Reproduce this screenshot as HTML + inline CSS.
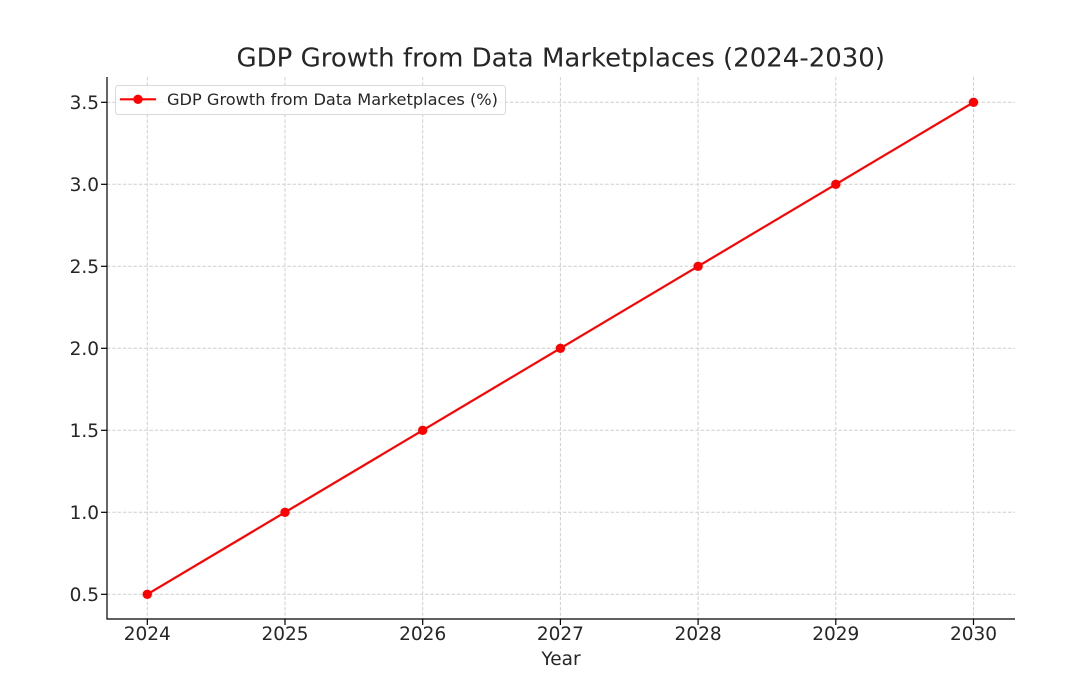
<!DOCTYPE html>
<html><head><meta charset="utf-8"><style>
html,body{margin:0;padding:0;background:#fff;}
svg{display:block;}
text{font-family:"DejaVu Sans","Liberation Sans",sans-serif;fill:#262626;}
</style></head><body>
<svg width="1091" height="691" viewBox="0 0 1091 691" xmlns="http://www.w3.org/2000/svg">
<rect width="1091" height="691" fill="#fff"/>
<g stroke="#cfcfcf" stroke-width="1" stroke-dasharray="3.5,1.8" fill="none">
<line x1="107" y1="594.3" x2="1015" y2="594.3"/>
<line x1="107" y1="512.3" x2="1015" y2="512.3"/>
<line x1="107" y1="430.3" x2="1015" y2="430.3"/>
<line x1="107" y1="348.3" x2="1015" y2="348.3"/>
<line x1="107" y1="266.3" x2="1015" y2="266.3"/>
<line x1="107" y1="184.3" x2="1015" y2="184.3"/>
<line x1="107" y1="102.3" x2="1015" y2="102.3"/>
<line x1="147.3" y1="77" x2="147.3" y2="619"/>
<line x1="285" y1="77" x2="285" y2="619"/>
<line x1="422.7" y1="77" x2="422.7" y2="619"/>
<line x1="560.4" y1="77" x2="560.4" y2="619"/>
<line x1="698.1" y1="77" x2="698.1" y2="619"/>
<line x1="835.8" y1="77" x2="835.8" y2="619"/>
<line x1="973.5" y1="77" x2="973.5" y2="619"/>
</g>
<g stroke="#000" stroke-width="1.2">
<line x1="107" y1="77" x2="107" y2="619.5"/>
<line x1="106.5" y1="619" x2="1015" y2="619"/>
<line x1="101" y1="594.3" x2="107" y2="594.3"/>
<line x1="101" y1="512.3" x2="107" y2="512.3"/>
<line x1="101" y1="430.3" x2="107" y2="430.3"/>
<line x1="101" y1="348.3" x2="107" y2="348.3"/>
<line x1="101" y1="266.3" x2="107" y2="266.3"/>
<line x1="101" y1="184.3" x2="107" y2="184.3"/>
<line x1="101" y1="102.3" x2="107" y2="102.3"/>
<line x1="147.3" y1="619" x2="147.3" y2="625"/>
<line x1="285" y1="619" x2="285" y2="625"/>
<line x1="422.7" y1="619" x2="422.7" y2="625"/>
<line x1="560.4" y1="619" x2="560.4" y2="625"/>
<line x1="698.1" y1="619" x2="698.1" y2="625"/>
<line x1="835.8" y1="619" x2="835.8" y2="625"/>
<line x1="973.5" y1="619" x2="973.5" y2="625"/>
</g>
<g font-size="18.5" text-anchor="end">
<text x="99" y="601">0.5</text>
<text x="99" y="519">1.0</text>
<text x="99" y="437">1.5</text>
<text x="99" y="355">2.0</text>
<text x="99" y="273">2.5</text>
<text x="99" y="191">3.0</text>
<text x="99" y="109">3.5</text>
</g>
<g font-size="18.5" text-anchor="middle">
<text x="147.3" y="640">2024</text>
<text x="285" y="640">2025</text>
<text x="422.7" y="640">2026</text>
<text x="560.4" y="640">2027</text>
<text x="698.1" y="640">2028</text>
<text x="835.8" y="640">2029</text>
<text x="973.5" y="640">2030</text>
<text x="561" y="665">Year</text>
</g>
<text x="236.5" y="66.3" font-size="25.5" textLength="648.5" lengthAdjust="spacingAndGlyphs">GDP Growth from Data Marketplaces (2024-2030)</text>
<polyline points="147.3,594.3 285,512.3 422.7,430.3 560.4,348.3 698.1,266.3 835.8,184.3 973.5,102.3" fill="none" stroke="#ff0000" stroke-width="2.2"/>
<g fill="#ff0000">
<circle cx="147.3" cy="594.3" r="4.7"/>
<circle cx="285" cy="512.3" r="4.7"/>
<circle cx="422.7" cy="430.3" r="4.7"/>
<circle cx="560.4" cy="348.3" r="4.7"/>
<circle cx="698.1" cy="266.3" r="4.7"/>
<circle cx="835.8" cy="184.3" r="4.7"/>
<circle cx="973.5" cy="102.3" r="4.7"/>
</g>
<rect x="115.5" y="85.5" width="390" height="29" rx="3" ry="3" fill="#fff" fill-opacity="0.8" stroke="#d9d9d9" stroke-width="1"/>
<line x1="120" y1="99.3" x2="156" y2="99.3" stroke="#ff0000" stroke-width="2.2"/>
<circle cx="138" cy="99.3" r="4.7" fill="#ff0000"/>
<text x="167" y="105" font-size="15.8" textLength="331" lengthAdjust="spacingAndGlyphs">GDP Growth from Data Marketplaces (%)</text>
</svg>
</body></html>
